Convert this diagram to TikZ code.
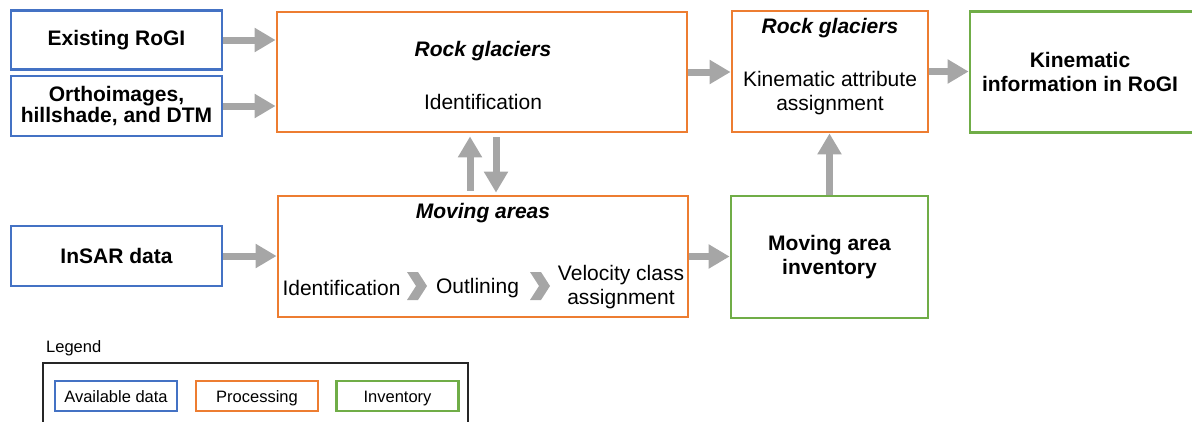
\documentclass[tikz,border=0pt]{standalone}
\usepackage{fontspec}
\setmainfont{Liberation Sans}
\usetikzlibrary{arrows.meta}
\definecolor{datablue}{HTML}{4472C4}
\definecolor{procorange}{HTML}{ED7D31}
\definecolor{invgreen}{HTML}{70AD47}
\definecolor{flowgray}{HTML}{A6A6A6}
\newcommand{\boxfont}{\fontsize{21}{24}\selectfont}
\newcommand{\legfont}{\fontsize{16.5}{19}\selectfont}
\tikzset{
  box/.style args={#1 by #2}{draw,line width=2.8pt,minimum width=#1,minimum height=#2,inner sep=0pt,align=center},
  databox/.style={box=#1,draw=datablue,font=\boxfont\bfseries},
  procbox/.style={box=#1,draw=procorange,font=\boxfont},
  invbox/.style={box=#1,draw=invgreen,font=\boxfont\bfseries},
  ttl/.style={font=\boxfont\bfseries\itshape,inner sep=0pt},
  txt/.style={font=\boxfont,inner sep=0pt,align=center},
  legbox/.style={draw=#1,line width=2.5pt,minimum width=122pt,minimum height=30pt,inner sep=0pt,text height=13pt,text depth=1pt,font=\legfont},
  flow/.style={draw=flowgray,line width=7pt,-{Triangle[width=23pt,length=21pt]}}
}
\begin{document}
\begin{tikzpicture}[x=1pt,y=-1pt]
  \useasboundingbox (0,0) rectangle (1192,421);
  \clip (0,0) rectangle (1192,421);

  % inputs
  \node[databox=211pt by 59pt] (rogi) at (116.5,40) {Existing RoGI};
  \node[databox=211pt by 60pt,font=\fontsize{21}{21.5}\selectfont\bfseries] (ortho) at (116.5,106) {Orthoimages,\\hillshade, and DTM};
  \node[databox=211pt by 60pt] (insar) at (116.5,256) {InSAR data};

  % processing
  \node[procbox=410pt by 120pt] (rgid) at (482,72) {};
  \node[ttl] (rgidT) at (483,51) {Rock glaciers};
  \node[txt] (rgidS) at (483,102) {Identification};

  \node[procbox=410pt by 121pt] (mov) at (483,256.5) {};
  \node[ttl] (movT) at (483,213) {Moving areas};
  \node[txt] (movA) at (341.5,288) {Identification};
  \node[txt] (movB) at (477.5,288) {Outlining};
  \node[txt] (movC) at (621,287) {Velocity class\\assignment};
  \foreach \cx in {407,530}
    \fill[flowgray] (\cx,272) -- (\cx+11,272) -- (\cx+20,286) -- (\cx+11,300) -- (\cx,300) -- (\cx+9,286) -- cycle;

  \node[procbox=196pt by 121pt] (rgkin) at (830,71.5) {};
  \node[ttl] (rgkinT) at (830,28) {Rock glaciers};
  \node[txt] (rgkinS) at (830,93) {Kinematic attribute\\assignment};

  % inventories
  \node[invbox=197pt by 122pt] (mai) at (829.5,257) {Moving area\\inventory};
  \node[invbox=236pt by 121pt] (kinfo) at (1088,72) {};
  \node[txt,font=\boxfont\bfseries] (kinfoT) at (1080,72) {Kinematic\\information in RoGI};

  % flows
  \draw[flow] (rogi.east) -- (rogi.east -| rgid.west);
  \draw[flow] (ortho.east) -- (ortho.east -| rgid.west);
  \draw[flow] (insar.east) -- (insar.east -| mov.west);
  \draw[flow,shorten <=4pt,shorten >=3pt] ([xshift=-13pt]mov.north) -- ([xshift=-13pt]mov.north |- rgid.south);
  \draw[flow,shorten <=4pt,shorten >=2pt] ([xshift=13pt]mov.north |- rgid.south) -- ([xshift=13pt]mov.north);
  \draw[flow] (rgid.east) -- (rgid.east -| rgkin.west);
  \draw[flow] (rgkin.east) -- (rgkin.east -| kinfo.west);
  \draw[flow] (mov.east) -- (mov.east -| mai.west);
  \draw[flow] (mai.north) -- (mai.north |- rgkin.south);

  % legend
  \node[anchor=west,inner sep=0pt,font=\legfont] (legT) at (46,348) {Legend};
  \draw[line width=1.2pt,black!85] (43,430) |- (468,363) -- (468,430);
  \node[legbox=datablue] (legD) at (116,396) {Available data};
  \node[legbox=procorange] (legP) at (257,396) {Processing};
  \node[legbox=invgreen] (legI) at (397.5,396) {Inventory};
\end{tikzpicture}
\end{document}
